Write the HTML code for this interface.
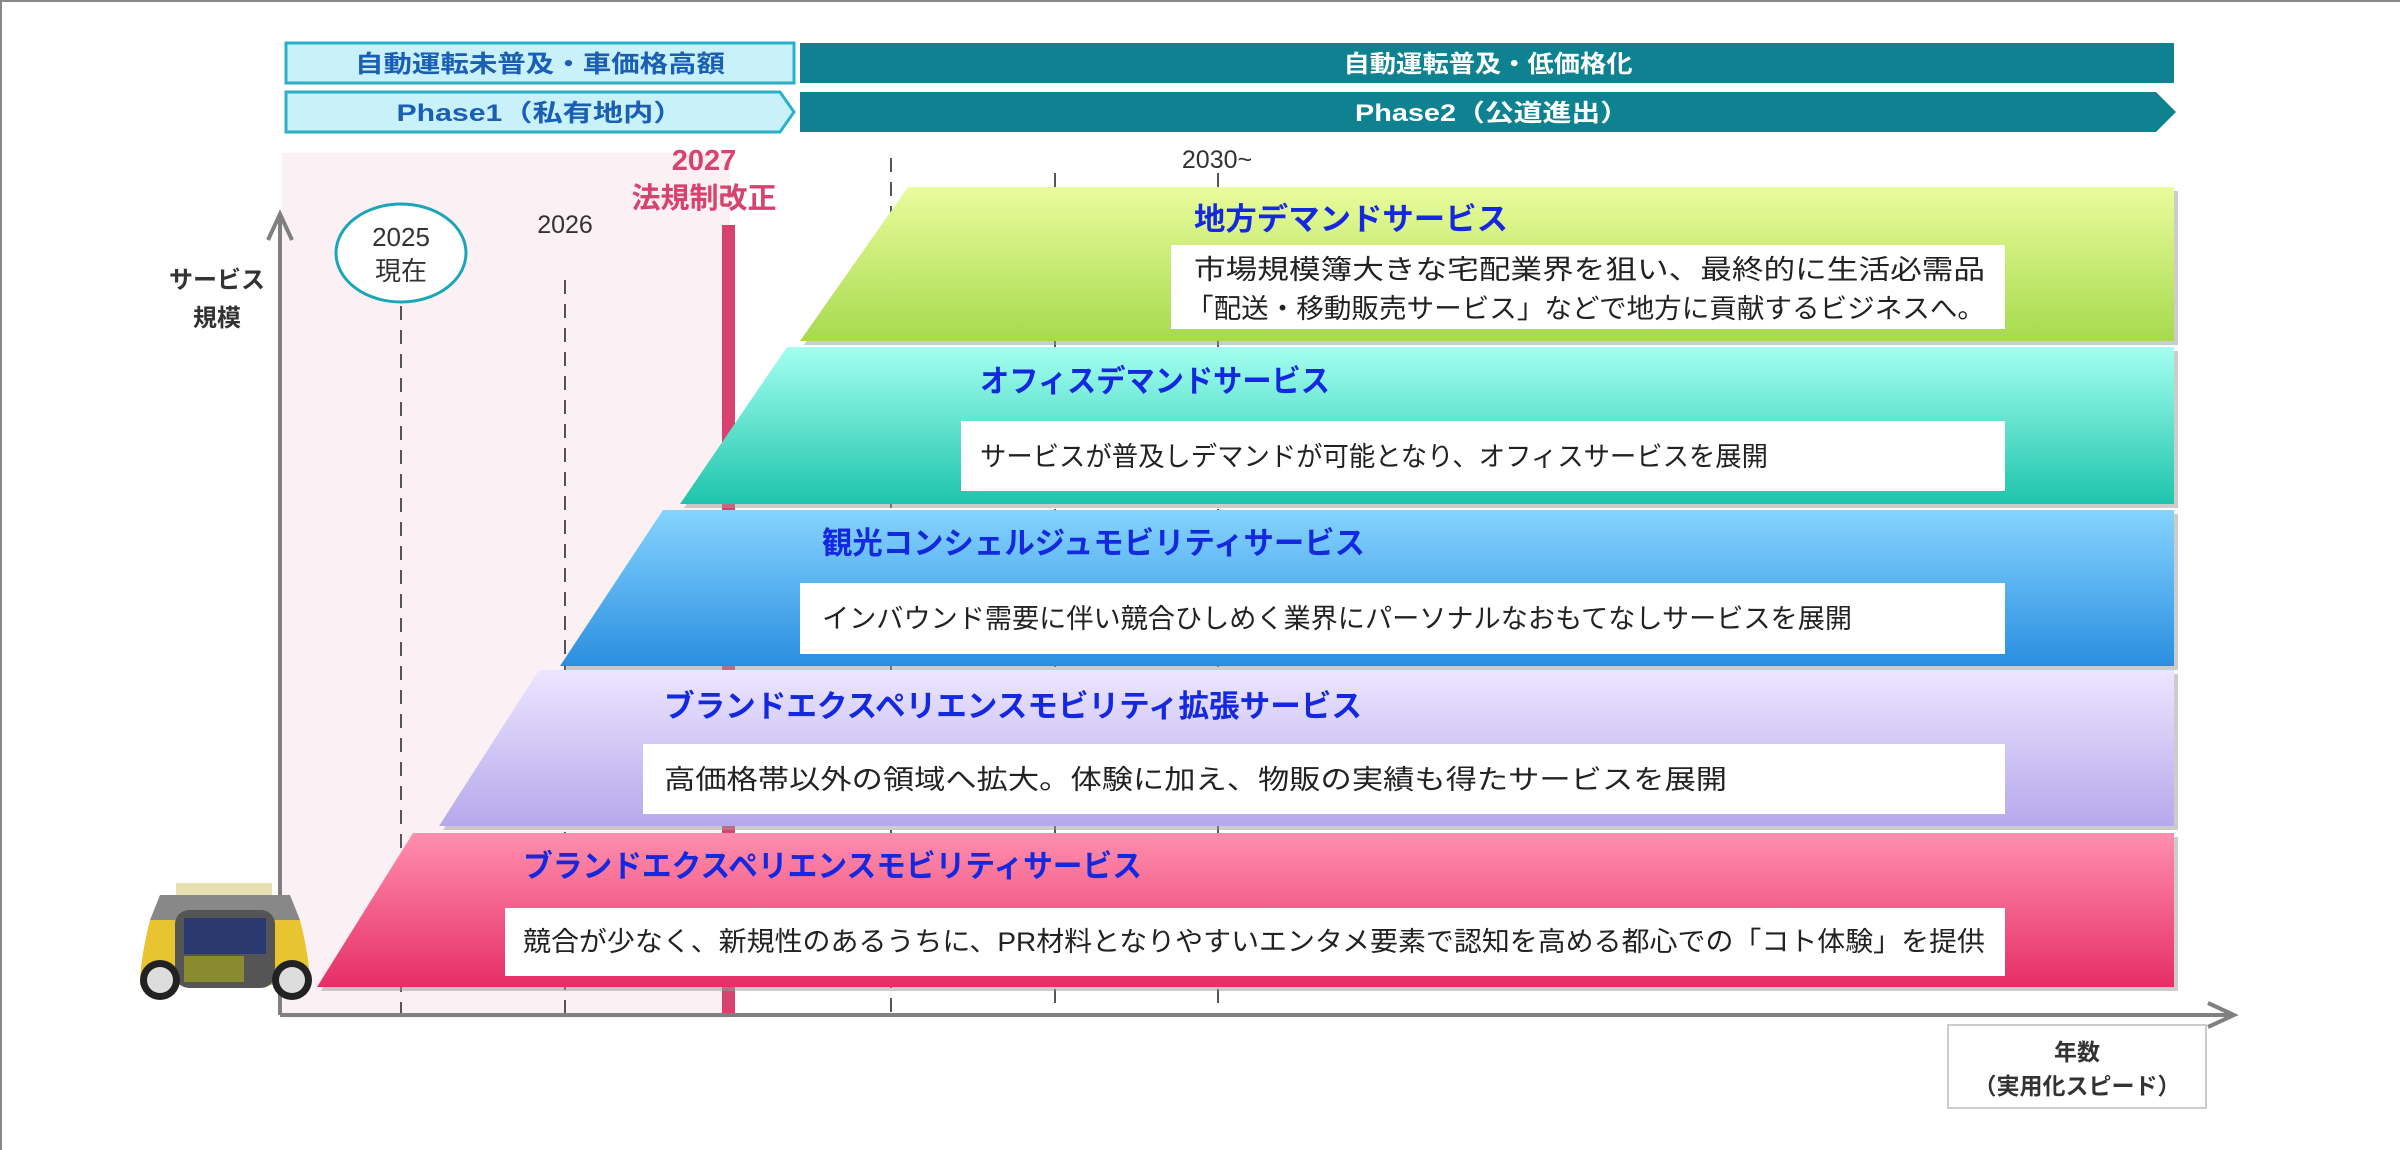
<!DOCTYPE html>
<html><head><meta charset="utf-8"><style>
html,body{margin:0;padding:0;background:#fff;}
svg{display:block;font-family:"Liberation Sans","Noto Sans CJK JP",sans-serif;}
</style></head><body>
<svg width="2400" height="1150" viewBox="0 0 2400 1150" xmlns="http://www.w3.org/2000/svg">
<defs>
<linearGradient id="g1" x1="0" y1="0" x2="0" y2="1"><stop offset="0" stop-color="#eafc9c"/><stop offset="1" stop-color="#a6da4e"/></linearGradient>
<linearGradient id="g2" x1="0" y1="0" x2="0" y2="1"><stop offset="0" stop-color="#a4fff0"/><stop offset="1" stop-color="#1ec4ac"/></linearGradient>
<linearGradient id="g3" x1="0" y1="0" x2="0" y2="1"><stop offset="0" stop-color="#86d4ff"/><stop offset="1" stop-color="#2a8ee0"/></linearGradient>
<linearGradient id="g4" x1="0" y1="0" x2="0" y2="1"><stop offset="0" stop-color="#ece6ff"/><stop offset="1" stop-color="#b6a8ec"/></linearGradient>
<linearGradient id="g5" x1="0" y1="0" x2="0" y2="1"><stop offset="0" stop-color="#ff8fae"/><stop offset="1" stop-color="#e62e66"/></linearGradient>
<marker id="ah" markerWidth="10" markerHeight="10" refX="5" refY="5" orient="auto" markerUnits="userSpaceOnUse" viewBox="0 0 10 10"></marker>
</defs>
<rect x="0" y="0" width="2400" height="2" fill="#888"/>
<rect x="0" y="0" width="2" height="1150" fill="#888"/>

<!-- header bars -->
<rect x="286" y="43" width="508" height="40" fill="#c9f1f9" stroke="#2ab0c8" stroke-width="3"/>
<text x="540" y="72" text-anchor="middle" font-size="24" font-weight="bold" fill="#1a5fb4" textLength="370" lengthAdjust="spacingAndGlyphs">自動運転未普及・車価格高額</text>
<rect x="800" y="43" width="1374" height="40" fill="#0e8291"/>
<text x="1488" y="72" text-anchor="middle" font-size="24" font-weight="bold" fill="#fff" textLength="289" lengthAdjust="spacingAndGlyphs">自動運転普及・低価格化</text>
<polygon points="286,92 780,92 794,112 780,132 286,132" fill="#c9f1f9" stroke="#2ab0c8" stroke-width="3"/>
<text x="540" y="121" text-anchor="middle" font-size="24" font-weight="bold" fill="#1a5fb4" textLength="287" lengthAdjust="spacingAndGlyphs">Phase1（私有地内）</text>
<polygon points="800,92 2156,92 2176,112 2156,132 800,132" fill="#0e8291"/>
<text x="1492" y="121" text-anchor="middle" font-size="24" font-weight="bold" fill="#fff" textLength="274" lengthAdjust="spacingAndGlyphs">Phase2（公道進出）</text>

<!-- pink region -->
<rect x="282" y="153" width="448" height="865" fill="#fbf0f3"/>

<!-- dashed lines -->
<g stroke="#555" stroke-width="2" stroke-dasharray="14,10">
<line x1="401" y1="306" x2="401" y2="1015"/>
<line x1="565" y1="280" x2="565" y2="1015"/>
<line x1="891" y1="158" x2="891" y2="1015"/>
<line x1="1055" y1="173" x2="1055" y2="1015"/>
<line x1="1218" y1="173" x2="1218" y2="1015"/>
</g>
<!-- red bar -->
<rect x="722" y="225" width="13" height="790" fill="#d9426e"/>
<text x="704" y="170" text-anchor="middle" font-size="29" font-weight="bold" fill="#d9426e">2027</text>
<text x="704" y="208" text-anchor="middle" font-size="29" font-weight="bold" fill="#d9426e">法規制改正</text>
<text x="1217" y="168" text-anchor="middle" font-size="25" fill="#333">2030~</text>
<text x="565" y="233" text-anchor="middle" font-size="25" fill="#333">2026</text>
<ellipse cx="401" cy="253" rx="65" ry="49" fill="#fff" stroke="#1aa6b8" stroke-width="3"/>
<text x="401" y="246" text-anchor="middle" font-size="26" fill="#333">2025</text>
<text x="401" y="280" text-anchor="middle" font-size="26" fill="#333">現在</text>
<text x="217" y="288" text-anchor="middle" font-size="24" font-weight="bold" fill="#333">サービス</text>
<text x="217" y="326" text-anchor="middle" font-size="24" font-weight="bold" fill="#333">規模</text>

<!-- trapezoids -->
<g filter="none">
<polygon points="912,191 2178,191 2178,345 804,345" fill="#999" opacity="0.5"/>
<polygon points="908,187 2174,187 2174,341 800,341" fill="url(#g1)"/>
<polygon points="791,351 2178,351 2178,508 684,508" fill="#999" opacity="0.5"/>
<polygon points="787,347 2174,347 2174,504 680,504" fill="url(#g2)"/>
<polygon points="667,514 2178,514 2178,670 564,670" fill="#999" opacity="0.5"/>
<polygon points="663,510 2174,510 2174,666 560,666" fill="url(#g3)"/>
<polygon points="543,674 2178,674 2178,830 443,830" fill="#999" opacity="0.5"/>
<polygon points="539,670 2174,670 2174,826 439,826" fill="url(#g4)"/>
<polygon points="417,837 2178,837 2178,991 321,991" fill="#999" opacity="0.5"/>
<polygon points="413,833 2174,833 2174,987 317,987" fill="url(#g5)"/>
</g>

<!-- white boxes -->
<rect x="1171" y="245" width="834" height="84" fill="#fff"/>
<rect x="961" y="421" width="1044" height="70" fill="#fff"/>
<rect x="800" y="583" width="1205" height="71" fill="#fff"/>
<rect x="643" y="744" width="1362" height="70" fill="#fff"/>
<rect x="505" y="908" width="1500" height="68" fill="#fff"/>

<!-- titles -->
<g font-size="31" font-weight="bold" fill="#1428e0">
<text x="1194" y="230" textLength="314" lengthAdjust="spacingAndGlyphs">地方デマンドサービス</text>
<text x="980" y="392" textLength="350" lengthAdjust="spacingAndGlyphs">オフィスデマンドサービス</text>
<text x="822" y="554" textLength="543" lengthAdjust="spacingAndGlyphs">観光コンシェルジュモビリティサービス</text>
<text x="664" y="717" textLength="698" lengthAdjust="spacingAndGlyphs">ブランドエクスペリエンスモビリティ拡張サービス</text>
<text x="523" y="877" textLength="619" lengthAdjust="spacingAndGlyphs">ブランドエクスペリエンスモビリティサービス</text>
</g>
<g font-size="27" fill="#222">
<text x="1194" y="279" textLength="791" lengthAdjust="spacingAndGlyphs">市場規模簿大きな宅配業界を狙い、最終的に生活必需品</text>
<text x="1186" y="318" textLength="799" lengthAdjust="spacingAndGlyphs">「配送・移動販売サービス」などで地方に貢献するビジネスへ。</text>
<text x="980" y="466" textLength="788" lengthAdjust="spacingAndGlyphs">サービスが普及しデマンドが可能となり、オフィスサービスを展開</text>
<text x="822" y="628" textLength="1030" lengthAdjust="spacingAndGlyphs">インバウンド需要に伴い競合ひしめく業界にパーソナルなおもてなしサービスを展開</text>
<text x="664" y="789" textLength="1063" lengthAdjust="spacingAndGlyphs">高価格帯以外の領域へ拡大。体験に加え、物販の実績も得たサービスを展開</text>
<text x="523" y="951" textLength="1462" lengthAdjust="spacingAndGlyphs">競合が少なく、新規性のあるうちに、PR材料となりやすいエンタメ要素で認知を高める都心での「コト体験」を提供</text>
</g>

<!-- axes -->
<line x1="280" y1="1015" x2="280" y2="218" stroke="#808080" stroke-width="4"/>
<polyline points="268,240 280,214 292,240" fill="none" stroke="#808080" stroke-width="4"/>
<line x1="280" y1="1015" x2="2232" y2="1015" stroke="#808080" stroke-width="4"/>
<polyline points="2208,1003 2234,1015 2208,1027" fill="none" stroke="#808080" stroke-width="4"/>

<rect x="1948" y="1025" width="258" height="83" fill="#fff" stroke="#ccc" stroke-width="2"/>
<text x="2077" y="1060" text-anchor="middle" font-size="23" font-weight="bold" fill="#333">年数</text>
<text x="2077" y="1094" text-anchor="middle" font-size="23" font-weight="bold" fill="#333">（実用化スピード）</text>

<!-- car -->
<g>
<rect x="176" y="883" width="96" height="12" fill="#e8e0b0"/>
<path d="M160 895 L290 895 L300 920 L150 920 Z" fill="#888"/>
<path d="M150 920 Q140 960 140 985 L310 985 Q310 960 300 920 Z" fill="#e8c430"/>
<rect x="175" y="910" width="100" height="78" rx="14" fill="#555"/>
<rect x="184" y="918" width="82" height="36" fill="#2a3a70"/>
<rect x="184" y="956" width="60" height="26" fill="#8a8a30"/>
<circle cx="160" cy="980" r="20" fill="#222"/><circle cx="160" cy="980" r="13" fill="#ddd"/>
<circle cx="292" cy="980" r="20" fill="#222"/><circle cx="292" cy="980" r="13" fill="#ddd"/>
</g>
</svg>
</body></html>
